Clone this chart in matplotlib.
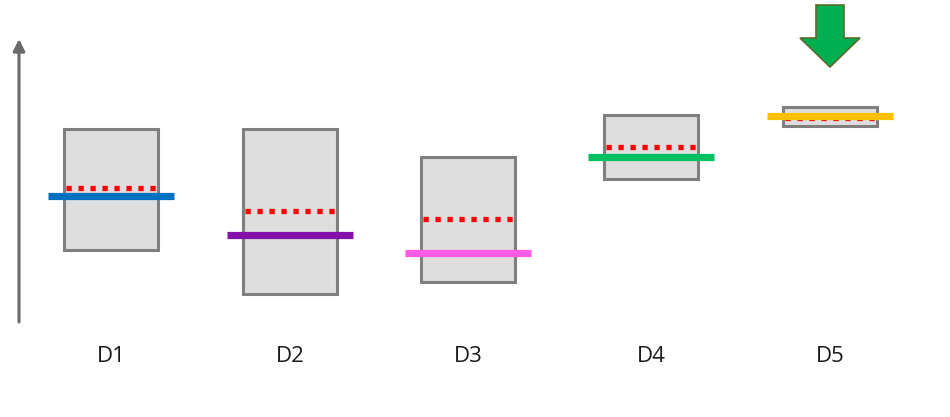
import matplotlib
matplotlib.use("Agg")
import matplotlib.pyplot as plt
from matplotlib.patches import Rectangle, Polygon

categories = ["D1", "D2", "D3", "D4", "D5"]
centers = [111, 290, 468, 651, 830]
box_low = [70, 26, 38, 141, 194]
box_high = [191, 191, 163, 205, 213]
dotted_vals = [132, 109, 101, 173, 202]
line_vals = [124, 85, 67, 163, 204]
line_colors = ["#0070c0", "#8412aa", "#ff5ce6", "#00c060", "#ffc000"]

fig = plt.figure(figsize=(9.5, 4.17), dpi=100)
ax = fig.add_axes([0, 0, 1, 1])
ax.set_xlim(0, 950)
ax.set_ylim(-97, 320)
ax.axis("off")

box_w = 94
line_w = 126
for c, lo, hi, dv, lv, col, name in zip(centers, box_low, box_high, dotted_vals,
                                         line_vals, line_colors, categories):
    ax.add_patch(Rectangle((c - box_w / 2, lo), box_w, hi - lo,
                           facecolor="#dedede", edgecolor="#7f7f7f", lw=2.2, zorder=2))
    ax.plot([c - 45, c + 44.5], [dv, dv], color="#ff0000",
            lw=3.8, linestyle=(0, (1, 1.27)), dash_capstyle="butt",
            solid_capstyle="butt", zorder=3)
    ax.plot([c - line_w / 2, c + line_w / 2], [lv, lv], color=col, lw=5.2,
            solid_capstyle="butt", zorder=4)
    ax.text(c, -36, name, ha="center", va="center", fontsize=16,
            family=["Open Sans", "DejaVu Sans"], color="#1a1a1a")

# vertical axis arrow
ax.annotate("", xy=(19, 281), xytext=(19, -2),
            arrowprops=dict(arrowstyle="-|>,head_length=0.7,head_width=0.35",
                            color="#6a6a6a", lw=2.2, shrinkA=0, shrinkB=0))

# green down arrow above D5
cx = centers[4]
top, head_y, tip = 315, 282, 253
shaft_hw, head_hw = 14, 30
pts = [(cx - shaft_hw, top), (cx + shaft_hw, top), (cx + shaft_hw, head_y),
       (cx + head_hw, head_y), (cx, tip), (cx - head_hw, head_y),
       (cx - shaft_hw, head_y)]
ax.add_patch(Polygon(pts, closed=True, facecolor="#00b050", edgecolor="#5a6b2a",
                     lw=1.2, zorder=5))

fig.savefig("out.png", dpi=100)
